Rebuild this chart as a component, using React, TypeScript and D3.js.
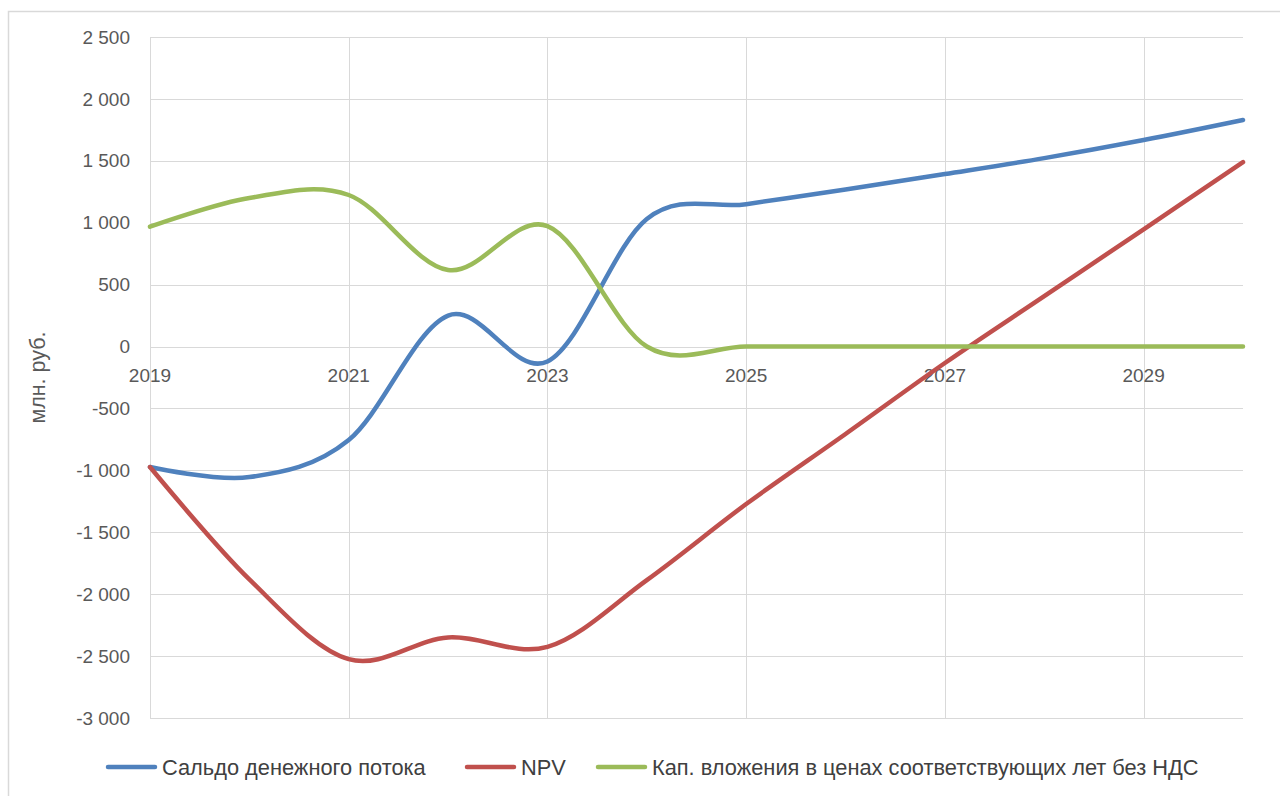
import React from "react";
import * as d3 from "d3";

const years = [2019, 2020, 2021, 2022, 2023, 2024, 2025, 2026, 2027, 2028, 2029, 2030];
const saldo = [-973, -1054, -755, 250, -120, 1030, 1150, 1268, 1393, 1522, 1668, 1830];
const npv = [-973, -1880, -2525, -2349, -2425, -1886, -1272, -706, -133, 407, 947, 1490];
const capex = [968, 1200, 1224, 618, 973, 0, 0, 0, 0, 0, 0, 0];
const yTicks = [2500, 2000, 1500, 1000, 500, 0, -500, -1000, -1500, -2000, -2500, -3000];
const xLabelYears = [2019, 2021, 2023, 2025, 2027, 2029];

const seriesNames = ["Сальдо денежного потока", "NPV", "Кап. вложения в ценах соответствующих лет без НДС"];
const seriesColors = ["#4F81BD", "#C0504D", "#9BBB59"];

const FONT = "'Liberation Sans', Arial, sans-serif";

export default function App() {
  const W = 1280, H = 796;
  const x = d3.scaleLinear().domain([2019, 2030]).range([150, 1243]);
  const y = d3.scaleLinear().domain([-3000, 2500]).range([718, 37]);
  const loc = d3.formatLocale({ decimal: ",", thousands: "\u00a0", grouping: [3], currency: ["", ""], minus: "-" });
  const fmt = loc.format(",d");
  const line = d3.line<number>().x((_, i) => x(years[i])).y((d) => y(d)).curve(d3.curveCatmullRom.alpha(0));
  const all = [saldo, npv, capex];
  const legendX = [108, 467, 598];
  return (
    <svg width={W} height={H} style={{ position: "absolute", left: 0, top: 0, background: "#fff" }} fontFamily={FONT}>
      <rect x={8.5} y={11.5} width={1300} height={820} fill="#fff" stroke="#D9D9D9" strokeWidth={1.5} />
      {yTicks.map((t) => (
        <line key={"h" + t} x1={x(2019)} x2={x(2030)} y1={Math.round(y(t)) + 0.5} y2={Math.round(y(t)) + 0.5} stroke="#D9D9D9" strokeWidth={1} />
      ))}
      {xLabelYears.map((yr) => (
        <line key={"v" + yr} x1={Math.round(x(yr)) + 0.5} x2={Math.round(x(yr)) + 0.5} y1={y(2500)} y2={y(-3000)} stroke="#D9D9D9" strokeWidth={1} />
      ))}
      {yTicks.map((t) => (
        <text key={"yl" + t} x={130} y={y(t)} dy="0.35em" textAnchor="end" fontSize={19} fill="#595959">
          {fmt(t)}
        </text>
      ))}
      {xLabelYears.map((yr) => (
        <text key={"xl" + yr} x={x(yr)} y={y(0) + 29} dy="0.35em" textAnchor="middle" fontSize={19} fill="#595959">
          {yr}
        </text>
      ))}
      <text transform={`translate(45,${(y(2500) + y(-3000)) / 2}) rotate(-90)`} textAnchor="middle" fontSize={21.5} fill="#595959">
        млн. руб.
      </text>
      {all.map((s, i) => (
        <path key={"s" + i} d={line(s) || ""} fill="none" stroke={seriesColors[i]} strokeWidth={4.5} strokeLinejoin="round" strokeLinecap="round" />
      ))}
      {seriesNames.map((n, i) => (
        <g key={"lg" + i}>
          <line x1={legendX[i]} x2={legendX[i] + 47} y1={767} y2={767} stroke={seriesColors[i]} strokeWidth={4.5} strokeLinecap="round" />
          <text x={legendX[i] + 54} y={767} dy="0.35em" fontSize={21.8} fill="#404040">
            {n}
          </text>
        </g>
      ))}
    </svg>
  );
}
